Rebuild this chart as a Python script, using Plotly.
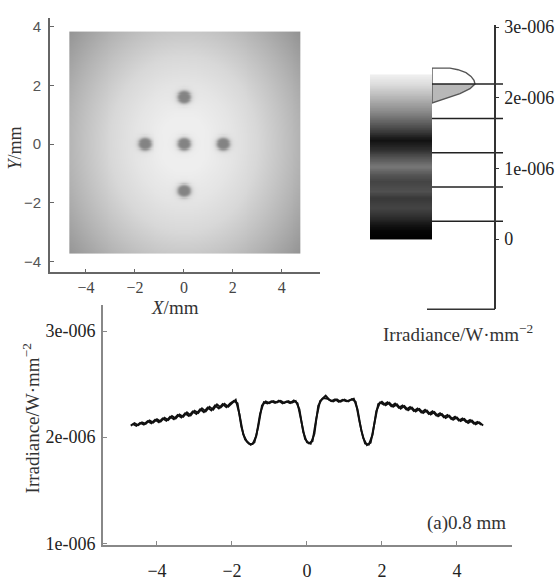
import numpy as np
import plotly.graph_objects as go

# ---------------- data ----------------
# irradiance image (values in 1e-6 W/mm^2)
spot_x = [0.0, 0.0, 0.0, -1.6, 1.6]
spot_y = [1.6, 0.0, -1.6, 0.0, 0.0]
spot_rx = 0.27
spot_ry = 0.22
spot_level = 1.92
bg_radius = [0, 1, 2, 3, 4, 4.7, 6.1]
bg_level = [2.34, 2.335, 2.30, 2.25, 2.17, 2.11, 1.98]
img_x_extent = [-4.68, 4.74]
img_y_extent = [-3.74, 3.84]

# line profiles through y = 0 (values in 1e-6 W/mm^2)
profA_x = [round(-4.7 + 0.1 * i, 2) for i in range(95)]
profA_y = [2.108, 2.131, 2.112, 2.139, 2.124, 2.158, 2.138, 2.169, 2.146, 2.183,
           2.162, 2.199, 2.176, 2.214, 2.191, 2.233, 2.205, 2.249, 2.228, 2.271,
           2.242, 2.286, 2.259, 2.309, 2.279, 2.314, 2.286, 2.322, 2.352, 2.215,
           2.025, 1.958, 1.928, 1.951, 2.095, 2.298, 2.336, 2.321, 2.341, 2.326,
           2.343, 2.322, 2.339, 2.324, 2.341, 2.262, 2.048, 1.952, 1.938, 2.031,
           2.296, 2.358, 2.392, 2.351, 2.336, 2.356, 2.334, 2.353, 2.337, 2.358,
           2.334, 2.148, 1.992, 1.924, 1.948, 2.128, 2.312, 2.334, 2.301, 2.325,
           2.287, 2.309, 2.268, 2.293, 2.254, 2.279, 2.241, 2.266, 2.228, 2.252,
           2.213, 2.236, 2.196, 2.219, 2.181, 2.202, 2.163, 2.186, 2.151, 2.171,
           2.134, 2.156, 2.121, 2.138, 2.109]
profB_x = [round(-4.65 + 0.1 * i, 2) for i in range(94)]
profB_y = [2.124, 2.106, 2.135, 2.119, 2.151, 2.131, 2.164, 2.141, 2.177, 2.154,
           2.192, 2.169, 2.209, 2.184, 2.224, 2.199, 2.241, 2.219, 2.262, 2.236,
           2.279, 2.252, 2.299, 2.271, 2.311, 2.281, 2.318, 2.341, 2.318, 2.098,
           1.978, 1.938, 1.935, 2.012, 2.221, 2.329, 2.318, 2.337, 2.322, 2.344,
           2.319, 2.336, 2.321, 2.345, 2.318, 2.152, 1.982, 1.941, 1.962, 2.178,
           2.341, 2.368, 2.362, 2.339, 2.357, 2.333, 2.352, 2.338, 2.349, 2.362,
           2.262, 2.061, 1.941, 1.929, 2.021, 2.246, 2.326, 2.306, 2.328, 2.291,
           2.316, 2.276, 2.299, 2.261, 2.285, 2.247, 2.271, 2.233, 2.258, 2.219,
           2.243, 2.204, 2.226, 2.188, 2.209, 2.171, 2.193, 2.156, 2.176, 2.141,
           2.161, 2.127, 2.143, 2.116]

# histogram of irradiance values (levels in 1e-6, counts in arbitrary units)
hist_levels = [2.419, 2.397, 2.356, 2.302, 2.248, 2.195, 2.128, 2.060, 1.993, 1.926]
hist_counts = [18, 26, 34, 39, 42, 43, 38, 28, 15, 0]
fill_from_level = 2.195
contour_levels = [0.255, 0.739, 1.223, 1.707, 2.195]
cbar_max = 2.33

E = 1e-6
SERIF = "Liberation Serif"
W, H = 558, 581


def px(x):
    return x / W


def py(y):
    return 1 - y / H


fig = go.Figure()

# ---------------- top-left image ----------------
gx = np.linspace(img_x_extent[0] + 0.02, img_x_extent[1] - 0.02, 236)
gy = np.linspace(img_y_extent[0] + 0.02, img_y_extent[1] - 0.02, 190)
XX, YY = np.meshgrid(gx, gy)
R = np.sqrt(XX ** 2 + YY ** 2)
Z = np.interp(R, bg_radius, bg_level)
for sx, sy in zip(spot_x, spot_y):
    d = np.sqrt(((XX - sx) / spot_rx) ** 2 + ((YY - sy) / spot_ry) ** 2)
    w = 1.0 / (1.0 + d ** 6)
    Z = Z - (Z - spot_level) * w
fig.add_trace(go.Heatmap(x=gx, y=gy, z=Z * E, colorscale=[[0, "#7e7e7e"], [1, "#f4f4f4"]],
                         zmin=1.90 * E, zmax=2.36 * E, showscale=False, hoverinfo="skip",
                         xaxis="x", yaxis="y"))

# ---------------- bottom profile ----------------
fig.add_trace(go.Scatter(x=profB_x, y=[v * E for v in profB_y], mode="lines",
                         line=dict(color="#111", width=1.9), xaxis="x2", yaxis="y2"))
fig.add_trace(go.Scatter(x=profA_x, y=[v * E for v in profA_y], mode="lines",
                         line=dict(color="#111", width=1.9), xaxis="x2", yaxis="y2"))

# ---------------- top-right colorbar + histogram ----------------
cb_y = np.linspace(0.005, cbar_max - 0.005, 233)
fig.add_trace(go.Heatmap(x=[0.25, 0.75], y=cb_y * E, z=[[v, v] for v in cb_y],
                         colorscale=[[0, "#000000"], [0.05, "#050505"], [0.09, "#151515"],
                                     [0.13, "#2c2c2c"], [0.19, "#444444"], [0.25, "#383838"],
                                     [0.29, "#505050"], [0.35, "#444444"], [0.39, "#555555"],
                                     [0.44, "#787878"], [0.5, "#505050"], [0.54, "#303030"],
                                     [0.60, "#111111"], [0.65, "#383838"], [0.69, "#555555"],
                                     [0.77, "#888888"], [0.87, "#bbbbbb"], [0.94, "#dddddd"],
                                     [1, "#f0f0f0"]],
                         zmin=0, zmax=cbar_max, showscale=False, hoverinfo="skip",
                         xaxis="x4", yaxis="y3"))

fill_x = [0] + [c for c, l in zip(hist_counts, hist_levels) if l <= fill_from_level] + [0]
fill_y = [fill_from_level] + [l for l in hist_levels if l <= fill_from_level] + [hist_levels[-1]]
fig.add_trace(go.Scatter(x=fill_x, y=[v * E for v in fill_y], mode="lines", fill="toself",
                         fillcolor="#b8b8b8", line=dict(width=0), xaxis="x3", yaxis="y3"))
out_x = [0] + hist_counts + [0]
out_y = [hist_levels[0]] + hist_levels + [hist_levels[0]]
fig.add_trace(go.Scatter(x=out_x, y=[v * E for v in out_y], mode="lines",
                         line=dict(color="#555", width=1.4), xaxis="x3", yaxis="y3"))
lx, ly = [], []
for lv in contour_levels:
    lx += [0, 71, None]
    ly += [lv * E, lv * E, None]
fig.add_trace(go.Scatter(x=lx, y=ly, mode="lines", line=dict(color="#222", width=1.5),
                         xaxis="x3", yaxis="y3"))

# ---------------- layout ----------------
tl_tick = dict(family="Liberation Sans", size=15, color="#555")


def label(text, x, y, size=19, angle=0):
    return dict(text=text, x=px(x), y=py(y), xref="paper", yref="paper",
                xanchor="center", yanchor="middle", showarrow=False, textangle=angle,
                font=dict(family=SERIF, size=size, color="#333"))


fig.update_layout(
    width=W, height=H, margin=dict(l=0, r=0, t=0, b=0),
    paper_bgcolor="white", plot_bgcolor="rgba(0,0,0,0)", showlegend=False,
    font=dict(family=SERIF, color="#222"),
    xaxis=dict(domain=[px(50), px(320)], range=[-5.47, 5.56], anchor="y",
               showline=True, linecolor="#666", linewidth=1.6, showgrid=False, zeroline=False,
               ticks="inside", ticklen=4, tickcolor="#666", tickvals=[-4, -2, 0, 2, 4],
               tickfont=dict(family=SERIF, size=16, color="#444")),
    yaxis=dict(domain=[py(278.3), py(10)], range=[-4.38, 4.32], anchor="x",
               showline=True, linecolor="#666", linewidth=1.6, showgrid=False, zeroline=False,
               ticks="inside", ticklen=4, tickcolor="#666", tickvals=[-4, -2, 0, 2, 4],
               tickfont=tl_tick, ticklabelstandoff=4),
    xaxis2=dict(domain=[px(103), px(512)], range=[-5.44, 5.47], anchor="y2",
                showline=True, linecolor="#888", linewidth=2, showgrid=False, zeroline=False,
                ticks="inside", ticklen=4, tickcolor="#888", tickvals=[-4, -2, 0, 2, 4],
                tickfont=dict(family=SERIF, size=18, color="#222"), ticklabelstandoff=9),
    yaxis2=dict(domain=[py(565), py(313)], range=[0.985 * E, 3.242 * E], anchor="x2",
                showline=True, linecolor="#888", linewidth=2, showgrid=False, zeroline=False,
                ticks="inside", ticklen=4, tickcolor="#888",
                tickvals=[1 * E, 2 * E, 3 * E], ticktext=["1e-006", "2e-006", "3e-006"],
                tickfont=dict(family=SERIF, size=18, color="#222"), ticklabelstandoff=2),
    xaxis3=dict(domain=[px(432), px(520)], range=[0, 88], anchor="y3", visible=False),
    xaxis4=dict(domain=[px(370), px(432)], range=[0, 1], anchor="y3", visible=False),
    yaxis3=dict(domain=[py(317), py(18)], range=[-0.99 * E, 3.028 * E], anchor="free",
                position=px(495), side="right",
                showline=True, linecolor="#333", linewidth=1.5, showgrid=False, zeroline=False,
                ticks="outside", ticklen=3, tickcolor="#333",
                tickvals=[0, 1 * E, 2 * E, 3 * E], ticktext=["0", "1e-006", "2e-006", "3e-006"],
                tickfont=dict(family=SERIF, size=18, color="#222"), ticklabelstandoff=2),
    shapes=[dict(type="line", xref="paper", yref="paper", x0=px(427), x1=px(495),
                 y0=py(317), y1=py(317), line=dict(color="#333", width=1.5))],
    annotations=[
        label("<i>X</i>/mm", 175, 315, 19),
        label("<i>Y</i>/mm", 15, 148, 18, -90),
        label("Irradiance/W·mm<sup>−2</sup>", 458, 342, 19),
        label("Irradiance/W·mm<sup>−2</sup>", 31, 432, 19, -90),
        label("(a)0.8 mm", 466, 542, 19),
    ],
)

fig.write_html("out.html")
